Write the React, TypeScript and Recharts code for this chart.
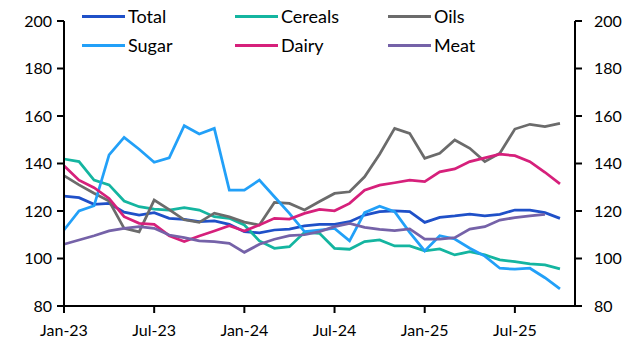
import React from 'react';
import { LineChart, Line, XAxis, YAxis, Legend } from 'recharts';

const months = [
  'Jan-23', 'Feb-23', 'Mar-23', 'Apr-23', 'May-23', 'Jun-23', 'Jul-23', 'Aug-23', 'Sep-23', 'Oct-23', 'Nov-23', 'Dec-23',
  'Jan-24', 'Feb-24', 'Mar-24', 'Apr-24', 'May-24', 'Jun-24', 'Jul-24', 'Aug-24', 'Sep-24', 'Oct-24', 'Nov-24', 'Dec-24',
  'Jan-25', 'Feb-25', 'Mar-25', 'Apr-25', 'May-25', 'Jun-25', 'Jul-25', 'Aug-25', 'Sep-25', 'Oct-25',
];

const total = [126.3, 125.6, 122.8, 123.2, 119.5, 118.3, 119.3, 116.9, 116.5, 115.5, 115.8, 114.4, 111.3, 110.8, 112.0, 112.4, 113.7, 114.4, 114.4, 115.5, 118.3, 119.7, 120.1, 119.7, 115.2, 117.3, 117.9, 118.7, 118.0, 118.6, 120.4, 120.4, 119.3, 116.9];
const cereals = [141.9, 140.8, 133.0, 131.0, 124.2, 121.8, 120.8, 120.4, 121.4, 120.4, 117.6, 116.9, 114.1, 107.4, 104.3, 105.0, 111.0, 110.6, 104.3, 103.9, 107.1, 107.8, 105.3, 105.3, 103.2, 104.0, 101.5, 102.9, 101.5, 99.4, 98.7, 97.7, 97.3, 95.6];
const oils = [134.9, 131.0, 127.5, 124.2, 112.7, 111.2, 124.6, 120.6, 116.3, 115.2, 119.1, 117.5, 115.3, 114.1, 123.6, 123.2, 120.4, 124.0, 127.4, 128.1, 134.4, 143.9, 154.8, 152.7, 142.2, 144.3, 149.9, 146.4, 140.8, 144.3, 154.5, 156.5, 155.5, 156.9];
const sugar = [112.0, 120.0, 122.2, 143.6, 151.0, 146.0, 140.5, 142.4, 155.9, 152.4, 154.8, 128.8, 128.8, 133.0, 126.0, 119.0, 111.3, 112.0, 112.7, 107.4, 119.3, 122.0, 119.7, 111.0, 103.2, 109.6, 108.2, 104.3, 101.0, 95.9, 95.5, 95.9, 91.9, 87.2];
const dairy = [139.1, 133.0, 129.8, 125.3, 117.6, 114.8, 114.4, 109.6, 107.1, 109.5, 111.6, 113.8, 111.6, 114.1, 116.9, 116.6, 119.0, 120.7, 120.1, 123.2, 128.8, 130.9, 131.9, 133.0, 132.4, 136.5, 137.7, 140.8, 142.4, 143.9, 143.3, 140.8, 136.3, 131.4];
const meat = [106.0, 107.8, 109.6, 111.6, 112.7, 113.4, 112.7, 109.9, 108.8, 107.4, 107.1, 106.4, 102.6, 106.0, 108.1, 109.6, 110.0, 111.3, 113.4, 114.8, 113.1, 112.3, 111.7, 112.5, 108.2, 108.2, 108.8, 112.4, 113.4, 116.2, 117.2, 117.9, 118.6];

const seriesNames = ['Total', 'Cereals', 'Oils', 'Sugar', 'Dairy', 'Meat'];
const seriesValues = [total, cereals, oils, sugar, dairy, meat];
const seriesColors = ['#1f50c8', '#14b5a0', '#6b6b6b', '#22a0f8', '#d6207b', '#7562a8'];

const yTicks = [80, 100, 120, 140, 160, 180, 200];
const xTickIdx = [0, 6, 12, 18, 24, 30];

const data = months.map((m, i) => {
  const row: Record<string, number | string | null> = { idx: i, month: m };
  seriesNames.forEach((n, k) => {
    const v = seriesValues[k][i];
    row[n] = v === undefined ? null : v;
  });
  return row;
});

const FONT = 'Lato, "Open Sans", sans-serif';
const legendCols = [82, 235, 388];

function LegendContent() {
  return (
    <div style={{ position: 'relative', width: 631, height: 60 }}>
      {seriesNames.map((n, i) => {
        const col = i % 3;
        const row = Math.floor(i / 3);
        return (
          <div
            key={n}
            style={{
              position: 'absolute',
              left: legendCols[col],
              top: 4 + row * 29,
              height: 24,
              display: 'flex',
              alignItems: 'center',
            }}
          >
            <div style={{ width: 43, height: 3, background: seriesColors[i] }} />
            <span style={{ marginLeft: 3, fontSize: 18, fontFamily: FONT, color: '#000', lineHeight: '24px' }}>{n}</span>
          </div>
        );
      })}
    </div>
  );
}

const tickStyle = { fill: '#000', fontSize: 16, fontFamily: FONT };
const axisLineStyle = { stroke: '#000', strokeWidth: 2 };

export default function App() {
  return (
    <div style={{ position: 'absolute', left: 0, top: 0, width: 631, height: 347, background: '#fff' }}>
      <LineChart width={631} height={347} data={data} margin={{ top: 21, right: 0, bottom: 0, left: 0 }}>
        <XAxis
          dataKey="idx"
          type="number"
          domain={[0, 34]}
          ticks={xTickIdx}
          tickFormatter={(v: number) => months[v]}
          height={41}
          tick={tickStyle}
          axisLine={axisLineStyle}
          tickLine={axisLineStyle}
          tickSize={7}
          tickMargin={12}
          interval={0}
        />
        <YAxis
          yAxisId="left"
          orientation="left"
          domain={[80, 200]}
          ticks={yTicks}
          width={64}
          tick={tickStyle}
          axisLine={axisLineStyle}
          tickLine={axisLineStyle}
          tickSize={7}
          tickMargin={5}
          interval={0}
        />
        <YAxis
          yAxisId="right"
          orientation="right"
          domain={[80, 200]}
          ticks={yTicks}
          width={56}
          tick={tickStyle}
          axisLine={axisLineStyle}
          tickLine={axisLineStyle}
          tickSize={7}
          tickMargin={12}
          interval={0}
        />
        <Legend
          layout="horizontal"
          verticalAlign="middle"
          align="center"
          content={<LegendContent />}
          wrapperStyle={{ position: 'absolute', top: 0, left: 0, width: 631, height: 60 }}
        />
        {seriesNames.map((n, i) => (
          <Line
            key={n}
            yAxisId={n === 'Meat' ? 'right' : 'left'}
            type="linear"
            dataKey={n}
            stroke={seriesColors[i]}
            strokeWidth={2.75}
            dot={false}
            activeDot={false}
            isAnimationActive={false}
            connectNulls={false}
          />
        ))}
      </LineChart>
    </div>
  );
}
